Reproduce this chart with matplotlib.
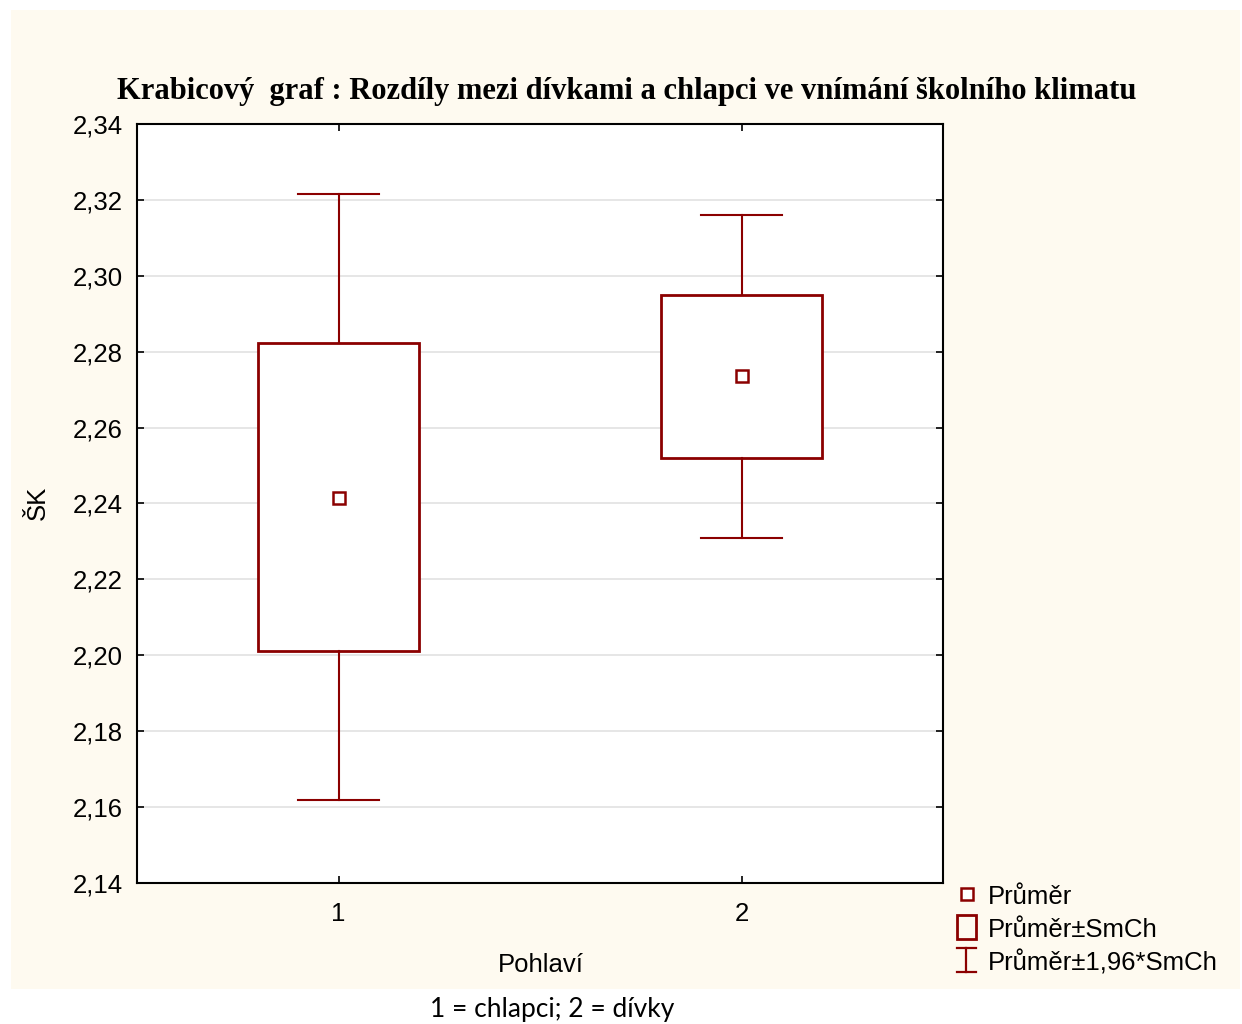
import matplotlib.pyplot as plt
from matplotlib.patches import Rectangle
from matplotlib.lines import Line2D
from matplotlib.ticker import FuncFormatter

# hodnoty
skupiny = [1, 2]
prumer = [2.2415, 2.2736]
smch_dolni = [2.2011, 2.2520]
smch_horni = [2.2823, 2.2949]
ci_dolni = [2.1619, 2.2309]
ci_horni = [2.3216, 2.3160]
legenda = ['Průměr', 'Průměr±SmCh', 'Průměr±1,96*SmCh']

barva = '#8B0000'
krem = '#FEFAF0'

fig = plt.figure(figsize=(12.42, 10.24), dpi=100)
fig.patch.set_facecolor('white')
fig.patches.append(Rectangle((11 / 1242, 35 / 1024), 1229 / 1242, 979 / 1024,
                             transform=fig.transFigure, facecolor=krem,
                             edgecolor='none', zorder=-10))

ax = fig.add_axes([137 / 1242, 1 - 883 / 1024, 806 / 1242, 759 / 1024])
ax.set_facecolor('white')

stats = []
for i in range(len(skupiny)):
    stats.append({'med': prumer[i], 'mean': prumer[i],
                  'q1': smch_dolni[i], 'q3': smch_horni[i],
                  'whislo': ci_dolni[i], 'whishi': ci_horni[i], 'fliers': []})

ax.bxp(stats, positions=skupiny, widths=0.4, showmeans=True, showfliers=False,
       patch_artist=True,
       boxprops=dict(facecolor='white', edgecolor=barva, linewidth=2.0),
       whiskerprops=dict(color=barva, linewidth=1.5),
       capprops=dict(color=barva, linewidth=1.5),
       capwidths=0.2,
       medianprops=dict(linewidth=0),
       meanprops=dict(marker='s', markersize=8.5, markerfacecolor='white',
                      markeredgecolor=barva, markeredgewidth=1.8),
       zorder=3)

ax.set_xlim(0.5, 2.5)
ax.set_ylim(2.14, 2.34)
ax.set_yticks([2.14 + 0.02 * k for k in range(11)])
ax.set_xticks(skupiny)
ax.set_xticklabels(['1', '2'])
ax.yaxis.set_major_formatter(FuncFormatter(lambda v, p: f'{v:.2f}'.replace('.', ',')))
ax.grid(axis='y', color='#E2E2E2', linewidth=1.2, zorder=0)
ax.set_axisbelow(True)
ax.tick_params(direction='in', length=5, width=1.2, top=True, right=True,
               labelsize=18.5)
ax.tick_params(axis='y', pad=10)
ax.tick_params(axis='x', pad=14)
for t in ax.get_xticklabels() + ax.get_yticklabels():
    t.set_family('Liberation Sans')
for s in ax.spines.values():
    s.set_linewidth(1.5)

fig.text(627 / 1242, 1 - 91 / 1024,
         'Krabicový  graf : Rozdíly mezi dívkami a chlapci ve vnímání školního klimatu',
         ha='center', va='center', family='Liberation Serif', weight='bold', fontsize=22)
fig.text(38 / 1242, 1 - 503 / 1024, 'ŠK', rotation=90, ha='center', va='center',
         family='Liberation Sans', fontsize=18.5)
fig.text(541 / 1242, 1 - 965 / 1024, 'Pohlaví', ha='center', va='center',
         family='Liberation Sans', fontsize=18.5)
fig.text(552 / 1242, 1 - 1010 / 1024, '1 = chlapci; 2 = dívky', ha='center',
         va='center', family='Lato', fontsize=19)

# legenda
fig.add_artist(Line2D([967 / 1242], [1 - 894 / 1024], marker='s', markersize=8.5,
                      markerfacecolor='white', markeredgecolor=barva,
                      markeredgewidth=1.8, transform=fig.transFigure))
fig.patches.append(Rectangle((957 / 1242, 1 - 939 / 1024), 19 / 1242, 24 / 1024,
                             transform=fig.transFigure, facecolor='none',
                             edgecolor=barva, linewidth=2.0))
for xs, ys in [([966, 966], [948, 972]), ([957, 976], [948, 948]), ([957, 976], [972, 972])]:
    fig.add_artist(Line2D([x / 1242 for x in xs], [1 - y / 1024 for y in ys],
                          color=barva, linewidth=1.6, transform=fig.transFigure))
for j, y in enumerate([897, 930, 963]):
    fig.text(988 / 1242, 1 - y / 1024, legenda[j], ha='left', va='center',
             family='Liberation Sans', fontsize=18.5)

fig.savefig('out.png', dpi=100)
